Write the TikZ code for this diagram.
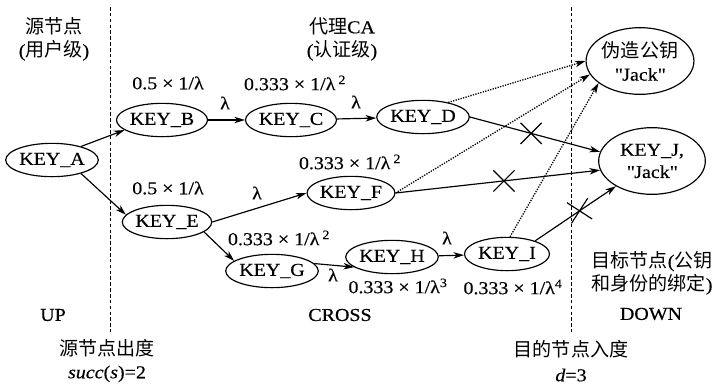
\documentclass[tikz,border=0pt]{standalone}
\usepackage{fontspec}
\setmainfont{Liberation Serif}[FakeStretch=1.1, FakeBold=0.4]
\newfontfamily\cjk{Noto Sans CJK SC}[Scale=1.05]
\usetikzlibrary{shapes.geometric, shapes.misc, arrows.meta}
\tikzstyle{key} = [ellipse, draw=black, line width=1pt, minimum width=2.55cm, minimum height=1.0cm, inner sep=0pt, align=center]
\tikzstyle{bigkey} = [key, minimum width=3.2cm, minimum height=2.0cm]
\tikzstyle{arrow} = [line width=1pt,->,>={Stealth[length=9pt,width=5.5pt,inset=2.5pt]}]
\tikzstyle{fakearrow} = [arrow, line width=1.1pt, dash pattern=on 1.1pt off 1.1pt]
\tikzstyle{divider} = [line width=0.8pt, densely dashed]
\tikzstyle{xmark} = [cross out, draw=black, line width=1pt, minimum size=0.6cm, inner sep=0pt, solid]
\tikzstyle{lab} = [inner sep=0pt, align=center]

\begin{document}
\begin{tikzpicture}[x=0.03cm, y=-0.03cm, font=\fontsize{15.5}{18}\selectfont]
			\useasboundingbox (0,0) rectangle (726,385);
			% divider lines
			\coordinate (uptop) at (110,7);
			\coordinate (upbot) at (110,332);
			\coordinate (downtop) at (571,7);
			\coordinate (downbot) at (571,332);
			\draw [divider] (uptop) -- (upbot);
			\draw [divider] (downtop) -- (downbot);
			% keys
			\node(A)[key] at (52,160) {KEY\_A};
			\node(B)[key] at (162,120) {KEY\_B};
			\node(C)[key] at (291,120) {KEY\_C};
			\node(D)[key] at (423,117) {KEY\_D};
			\node(E)[key] at (167,222) {KEY\_E};
			\node(F)[key] at (351,193) {KEY\_F};
			\node(G)[key] at (272,271) {KEY\_G};
			\node(H)[key] at (392,257) {KEY\_H};
			\node(I)[key] at (507,254) {KEY\_I};
			\node(fake)[bigkey] at (640,61) {{\cjk 伪造公钥}\\[2pt]\textquotedbl Jack\textquotedbl};
			\node(J)[bigkey] at (652,161) {KEY\_J,\\[1pt]\textquotedbl Jack\textquotedbl};
			% paths
			\draw [arrow] (A.25) -- (B.195);
			\draw [arrow] (A.-25) -- (E.170);
			\draw [arrow] (B) -- (C);
			\draw [arrow] (C) -- (D);
			\draw [arrow] (E.east) -- (F.west);
			\draw [arrow] (E.-15) -- (G.165);
			\draw [arrow] (G.10) -- (H.195);
			\draw [arrow] (H) -- (I);
			\draw [fakearrow] (D.30) -- (fake.180);
			\draw [fakearrow] (F.east) -- (fake.195);
			\draw [fakearrow] (I.80) -- (fake.208);
			\draw [arrow] (D.east) -- node[xmark, pos=0.47] (x1) {} (J.170);
			\draw [arrow] (F.east) -- node[xmark, pos=0.53] (x2) {} (J.190);
			\draw [arrow] (I.25) -- node[xmark, pos=0.55, rotate=12] (x3) {} (J.215);
			% Labels
			\node(srctitle)[lab] at (54,39) {{\cjk 源节点}\\[2pt]({\cjk 用户级})};
			\node(catitle)[lab] at (342,39) {{\cjk 代理}CA\\[2pt]({\cjk 认证级})};
			\node(wB)[lab] at (168,83) {0.5 × 1/λ};
			\node(wC)[lab] at (295,83) {0.333 × 1/λ\,\textsuperscript{2}};
			\node(lBC)[lab] at (225,103) {λ};
			\node(lCD)[lab] at (356,102) {λ};
			\node(wE)[lab] at (168,188) {0.5 × 1/λ};
			\node(lEF)[lab] at (257,193) {λ};
			\node(wF)[lab] at (350,162) {0.333 × 1/λ\,\textsuperscript{2}};
			\node(wG)[lab] at (279,238) {0.333 × 1/λ\,\textsuperscript{2}};
			\node(lGH)[lab] at (333,275) {λ};
			\node(lHI)[lab] at (447,238) {λ};
			\node(wH)[lab] at (398,286) {0.333 × 1/λ\textsuperscript{3}};
			\node(wI)[lab] at (513,287) {0.333 × 1/λ\textsuperscript{4}};
			\node(up)[lab] at (53,315) {UP};
			\node(cross)[lab] at (340,315) {CROSS};
			\node(down)[lab] at (651,314) {DOWN};
			\node(dsttitle)[lab] at (652,273) {{\cjk 目标节点}({\cjk 公钥}\\[2pt]{\cjk 和身份的绑定})};
			\node(outdeg)[lab] at (107,361) {{\cjk 源节点出度}\\[1pt]\textit{succ}(\textit{s})=2};
			\node(indeg)[lab] at (571,361) {{\cjk 目的节点入度}\\[3pt]\textit{d}=3};
		\end{tikzpicture}
\end{document}
